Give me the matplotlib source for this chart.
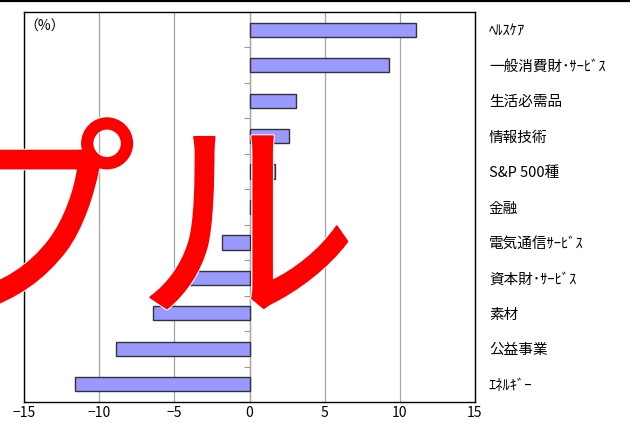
import matplotlib
matplotlib.use("Agg")
import matplotlib.pyplot as plt
import matplotlib.patheffects as pe
from matplotlib.lines import Line2D
import numpy as np

plt.rcParams["font.family"] = ["Noto Sans CJK JP", "DejaVu Sans"]

# sectors, top to bottom
sectors = [
    "ﾍﾙｽｹｱ",
    "一般消費財･ｻｰﾋﾞｽ",
    "生活必需品",
    "情報技術",
    "S&P 500種",
    "金融",
    "電気通信ｻｰﾋﾞｽ",
    "資本財･ｻｰﾋﾞｽ",
    "素材",
    "公益事業",
    "ｴﾈﾙｷﾞｰ",
]
returns = [11.1, 9.3, 3.1, 2.6, 1.7, 0.2, -1.8, -5.0, -6.4, -8.9, -11.6]
x_ticks = [-15, -10, -5, 0, 5, 10, 15]

fig = plt.figure(figsize=(6.3, 4.23), dpi=100)
ax = fig.add_axes([24 / 630, 1 - 402 / 423, 451 / 630, 390 / 423])

ypos = np.arange(len(sectors))
ax.barh(ypos, returns, height=0.4, color="#9999FF", edgecolor="#333333",
        linewidth=1.0, zorder=3)

ax.set_xlim(-15, 15)
ax.set_ylim(-0.5, len(sectors) - 0.5)
ax.invert_yaxis()

ax.set_xticks(x_ticks)
ax.set_xticklabels([str(t).replace("-", "\u2212") for t in x_ticks], fontsize=10)
ax.tick_params(axis="x", length=0, pad=3)
ax.xaxis.grid(True, color="#A6A6A6", linewidth=0.9, zorder=0)
ax.set_axisbelow(True)

# category labels on the right
ax.yaxis.tick_right()
ax.set_yticks(ypos)
ax.set_yticklabels(sectors, fontsize=10.5)
ax.tick_params(axis="y", length=0, pad=10)
for lbl in ax.get_yticklabels():
    lbl.set_horizontalalignment("left")

for s in ax.spines.values():
    s.set_color("black")
    s.set_linewidth(1.0)

# zero axis with category boundary ticks
zax = ax.secondary_yaxis(0.5)
zax.spines["left"].set_color("black")
zax.spines["left"].set_linewidth(1.2)
zax.set_yticks(np.arange(len(sectors) + 1) - 0.5)
zax.set_yticklabels([])
zax.tick_params(axis="y", direction="in", length=4, color="#999999", width=0.8)

ax.text(0.0, 0.962, "（%）", transform=ax.transAxes, fontsize=10,
        ha="left", va="center")

# top rule
fig.add_artist(Line2D([0, 1], [1 - 1.5 / 423] * 2, transform=fig.transFigure,
                      color="black", linewidth=1.6))

# sample watermark
fig.text(358 / 630, 1 - 240 / 423, "サンプル", fontsize=160, color="#FF0000",
         ha="right", va="center", zorder=10,
         path_effects=[pe.Stroke(linewidth=3, foreground="white"),
                       pe.Stroke(linewidth=1.5, foreground="#FF0000"),
                       pe.Normal()])

fig.savefig("out.png", dpi=100)
